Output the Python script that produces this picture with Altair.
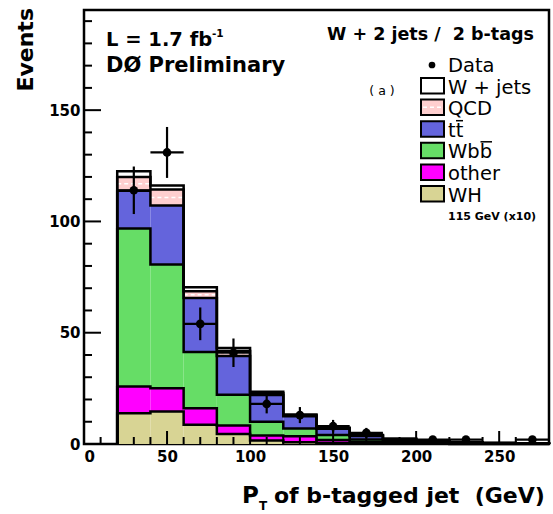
import altair as alt
import pandas as pd
import numpy as np

# ---------------- data ----------------
edges = [20, 40, 60, 80, 100, 120, 140, 160, 180, 200, 220, 240, 260, 280]
wh    = [13.8, 14.6, 8.6, 4.5, 1.6, 0.8, 0.5, 0.3, 0.2, 0.1, 0.05, 0.03, 0.02]
other = [12.0, 10.5, 7.5, 3.8, 2.2, 2.7, 1.3, 0.6, 0.3, 0.2, 0.1, 0.07, 0.04]
wbb   = [71.0, 55.5, 25.2, 13.8, 6.2, 3.5, 2.2, 1.1, 0.7, 0.4, 0.25, 0.15, 0.1]
ttbar = [17.0, 26.6, 24.3, 17.4, 12.0, 5.5, 2.8, 1.6, 1.0, 0.5, 0.3, 0.2, 0.1]
qcd   = [6.2, 7.2, 3.0, 2.3, 0.8, 0.4, 0.2, 0.2, 0.1, 0.05, 0.03, 0.02, 0.01]
wjets = [2.5, 1.8, 1.8, 1.3, 0.7, 0.4, 0.3, 0.2, 0.1, 0.05, 0.03, 0.02, 0.01]

data_x = [30, 50, 70, 90, 110, 130, 150, 170, 210, 230, 270]
data_n = [114, 131, 54, 41, 18, 13, 8, 5, 2, 2, 2]

comp_names = ["WH", "other", "Wbb", "tt", "QCD", "W+jets"]
comp_colors = ["#d8d494", "#ff00ff", "#66dd66", "#6464dc", "#ffcfcf", "#ffffff"]
legend_labels = ["W + jets", "QCD", "tt", "Wbb", "other", "WH"]
legend_colors = ["#ffffff", "#ffcfcf", "#6464dc", "#66dd66", "#ff00ff", "#d8d494"]

x_major = [0, 50, 100, 150, 200, 250]
y_major = [0, 50, 100, 150]

# ---------------- build tables ----------------
comps = [wh, other, wbb, ttbar, qcd, wjets]
cum = np.cumsum(np.array(comps), axis=0)
nb = len(edges) - 1

rect_rows, line_rows = [], []
for k, name in enumerate(comp_names):
    for i in range(nb):
        lo_y = 0.0 if k == 0 else cum[k - 1][i]
        rect_rows.append(dict(comp=name, lo=edges[i], hi=edges[i + 1], y0=lo_y, y1=cum[k][i]))
    pts = [(edges[0], 0.0)] + [(edges[i], cum[k][i]) for i in range(nb)] + [(edges[-1], cum[k][-1]), (edges[-1], 0.0)]
    for j, (px, py) in enumerate(pts):
        line_rows.append(dict(level=name, xx=px, yy=py, idx=j))
rect_df = pd.DataFrame(rect_rows)
line_df = pd.DataFrame(line_rows)

hatch_df = pd.DataFrame([dict(lo=edges[i], hi=edges[i + 1], ym=(cum[3][i] + cum[4][i]) / 2)
                         for i in range(nb) if qcd[i] > 1.5])

dn = np.array(data_n, dtype=float)
data_df = pd.DataFrame(dict(x=data_x, n=dn, lo=np.array(data_x) - 10, hi=np.array(data_x) + 10,
                            elo=dn - np.sqrt(dn), ehi=dn + np.sqrt(dn)))

FONT = "DejaVu Sans"
W, H = 465, 434
OX, OY = 84, 10

xs = alt.Scale(domain=[0, 280], nice=False, zero=False)
ys = alt.Scale(domain=[0, 195], nice=False, zero=False)

xaxis = alt.Axis(values=x_major, ticks=False, domain=False, grid=False, labelFont=FONT,
                 labelFontSize=15, labelFontWeight="bold", labelPadding=5, labelColor="black",
                 title=None, format="d")
yaxis = alt.Axis(values=y_major, ticks=False, domain=False, grid=False, labelFont=FONT,
                 labelFontSize=15, labelFontWeight="bold", labelPadding=4, labelColor="black",
                 title=None, format="d")

rects = alt.Chart(rect_df).mark_rect(strokeWidth=0).encode(
    x=alt.X("lo:Q", scale=xs, axis=xaxis), x2="hi:Q",
    y=alt.Y("y0:Q", scale=ys, axis=yaxis), y2="y1:Q",
    color=alt.Color("comp:N", scale=alt.Scale(domain=comp_names, range=comp_colors), legend=None),
)

hatch = alt.Chart(hatch_df).mark_rule(color="white", strokeWidth=1.5, strokeDash=[4, 3]).encode(
    x=alt.X("lo:Q", scale=xs, axis=xaxis), x2="hi:Q", y=alt.Y("ym:Q", scale=ys, axis=yaxis))

outlines = alt.Chart(line_df).mark_line(interpolate="step-after", color="black", strokeWidth=2.5).encode(
    x=alt.X("xx:Q", scale=xs, axis=xaxis), y=alt.Y("yy:Q", scale=ys, axis=yaxis),
    detail="level:N", order="idx:Q")

# ticks drawn inward
ymin = [v for v in range(10, 195, 10) if v % 50]
ymaj = [50, 100, 150]
xmin = [v for v in range(10, 280, 10) if v % 50]
xmaj = [50, 100, 150, 200, 250]
tick_layers = [
    alt.Chart(pd.DataFrame({"v": ymaj})).mark_rule(color="black", strokeWidth=2).encode(
        y=alt.Y("v:Q", scale=ys, axis=yaxis), x=alt.value(0), x2=alt.value(17)),
    alt.Chart(pd.DataFrame({"v": ymin})).mark_rule(color="black", strokeWidth=2).encode(
        y=alt.Y("v:Q", scale=ys, axis=yaxis), x=alt.value(0), x2=alt.value(8)),
    alt.Chart(pd.DataFrame({"v": xmaj})).mark_rule(color="black", strokeWidth=2).encode(
        x=alt.X("v:Q", scale=xs, axis=xaxis), y=alt.value(H), y2=alt.value(H - 13)),
    alt.Chart(pd.DataFrame({"v": xmin})).mark_rule(color="black", strokeWidth=2).encode(
        x=alt.X("v:Q", scale=xs, axis=xaxis), y=alt.value(H), y2=alt.value(H - 7)),
]

# data points
d_v = alt.Chart(data_df).mark_rule(color="black", strokeWidth=2.2).encode(
    x=alt.X("x:Q", scale=xs, axis=xaxis), y=alt.Y("elo:Q", scale=ys, axis=yaxis), y2="ehi:Q")
d_h = alt.Chart(data_df).mark_rule(color="black", strokeWidth=2.2).encode(
    x=alt.X("lo:Q", scale=xs, axis=xaxis), x2="hi:Q", y=alt.Y("n:Q", scale=ys, axis=yaxis))
d_p = alt.Chart(data_df).mark_circle(color="black", size=75, opacity=1).encode(
    x=alt.X("x:Q", scale=xs, axis=xaxis), y=alt.Y("n:Q", scale=ys, axis=yaxis))

one = pd.DataFrame({"a": [0]})


def txt(s, px, py, size, weight="normal", align="left", baseline="alphabetic", angle=0):
    kw = dict(font=FONT, fontSize=size, fontWeight=weight, align=align, baseline=baseline, color="black")
    if angle:
        kw["angle"] = angle
    return alt.Chart(one).mark_text(**kw).encode(
        x=alt.value(px - OX), y=alt.value(py - OY), text=alt.value(s))


def hline(x1, x2, py, width=1.5, color="black"):
    return alt.Chart(one).mark_rule(color=color, strokeWidth=width).encode(
        x=alt.value(x1 - OX), x2=alt.value(x2 - OX), y=alt.value(py - OY))


texts = [
    txt("Events", 33, 8, 22, "bold", align="right", angle=270),
    txt("P", 242, 503, 23, "bold"),
    txt("T", 259, 510, 12, "bold"),
    txt("of b-tagged jet \u00a0(GeV)", 274, 503, 22, "bold"),
    txt("L = 1.7 fb", 106, 46, 19.5, "bold"),
    txt("-1", 212, 37, 10.5, "bold"),
    txt("D\u00d8 Preliminary", 106, 72, 21, "bold"),
    txt("W + 2 jets / \u00a02 b-tags", 327, 40, 17.5, "bold"),
    txt("( a )", 382, 95, 12.5, align="center"),
    txt("Data", 448, 72, 19.5),
    txt("115 GeV (x10)", 448, 220, 11, "bold"),
]

legend_layers = [
    alt.Chart(one).mark_circle(color="black", size=45, opacity=1).encode(
        x=alt.value(432 - OX), y=alt.value(65 - OY))
]
for i, (lab, col) in enumerate(zip(legend_labels, legend_colors)):
    top = 78 + 21.6 * i
    bot = top + 15.5
    legend_layers.append(
        alt.Chart(one).mark_rect(fill=col, stroke="black", strokeWidth=2).encode(
            x=alt.value(421 - OX), x2=alt.value(444 - OX), y=alt.value(top - OY), y2=alt.value(bot - OY)))
    if lab == "QCD":
        legend_layers.append(
            alt.Chart(one).mark_rule(color="white", strokeWidth=1.5, strokeDash=[4, 3]).encode(
                x=alt.value(423 - OX), x2=alt.value(442 - OX), y=alt.value((top + bot) / 2 - OY)))
    legend_layers.append(txt(lab, 448, bot, 19.5))
    if lab == "tt":
        # bar over the second t
        legend_layers.append(hline(456, 463, bot - 16, 1.5))
    if lab == "Wbb":
        # bar over the second b
        legend_layers.append(hline(480.5, 492, bot - 16.5, 1.5))

chart = alt.layer(rects, hatch, outlines, *tick_layers, d_v, d_h, d_p, *texts, *legend_layers).properties(
    width=W, height=H,
    autosize=alt.AutoSizeParams(type="none"),
    padding={"left": OX, "top": OY, "right": 553 - OX - W, "bottom": 514 - OY - H},
    background="white",
).configure_view(stroke="black", strokeWidth=2.5)

chart.save("out.html", embed_options={"renderer": "svg", "actions": False})
